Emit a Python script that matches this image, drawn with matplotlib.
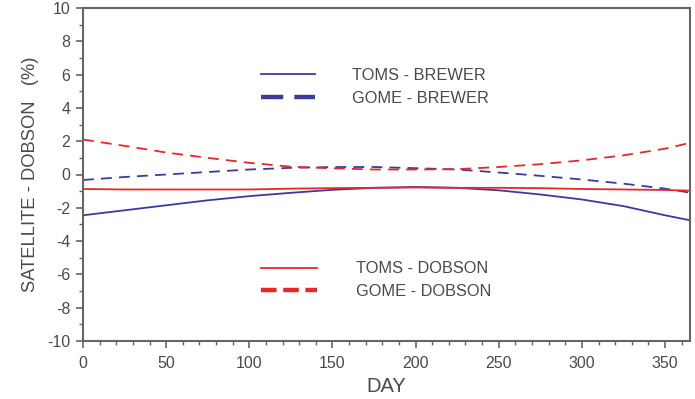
import numpy as np
import matplotlib.pyplot as plt
from matplotlib.lines import Line2D
from matplotlib.ticker import MultipleLocator

plt.rcParams['font.family'] = ['Liberation Sans', 'DejaVu Sans']
plt.rcParams['axes.unicode_minus'] = False

# Days sampled along the seasonal curves
days = [0, 25, 50, 75, 100, 125, 150, 175, 200, 225, 250, 275, 300, 325, 350, 365]

# Satellite minus ground-based differences (%)
toms_brewer = [-2.45, -2.15, -1.85, -1.55, -1.3, -1.1, -0.92, -0.8, -0.75, -0.8, -0.95, -1.2, -1.5, -1.9, -2.45, -2.75]
gome_brewer = [-0.33, -0.15, 0.0, 0.15, 0.3, 0.4, 0.45, 0.45, 0.38, 0.3, 0.12, -0.08, -0.3, -0.55, -0.85, -1.09]
toms_dobson = [-0.87, -0.9, -0.9, -0.9, -0.9, -0.85, -0.82, -0.8, -0.78, -0.8, -0.8, -0.82, -0.87, -0.9, -0.93, -0.97]
gome_dobson = [2.1, 1.72, 1.32, 1.0, 0.7, 0.47, 0.37, 0.3, 0.3, 0.32, 0.45, 0.62, 0.85, 1.15, 1.55, 1.9]

blue = '#3b3b9c'
red = '#e8262b'
grey = '#4a4a4a'

fig = plt.figure(figsize=(6.95, 3.99), dpi=100)
ax = fig.add_axes([83/695, 1 - 341/399, 607/695, 333/399])

ax.plot(days, toms_brewer, color=blue, lw=1.3)
ax.plot(days, gome_brewer, color=blue, lw=1.3, dashes=(6, 4))
ax.plot(days, toms_dobson, color=red, lw=1.3)
ax.plot(days, gome_dobson, color=red, lw=1.3, dashes=(6, 4))

ax.set_xlim(0, 365)
ax.set_ylim(-10, 10)
ax.xaxis.set_major_locator(MultipleLocator(50))
ax.xaxis.set_minor_locator(MultipleLocator(10))
ax.yaxis.set_major_locator(MultipleLocator(2))
ax.yaxis.set_minor_locator(MultipleLocator(1))
ax.tick_params(which='both', direction='out', colors='#666666', labelsize=11.5, labelcolor=grey)
ax.tick_params(which='major', length=5, width=1.2)
ax.tick_params(which='minor', length=3, width=1.0)
ax.tick_params(axis='x', pad=6)
ax.tick_params(axis='y', pad=4)
for s in ax.spines.values():
    s.set_color('#666666')
    s.set_linewidth(1.5)

ax.set_xlabel('DAY', fontsize=14.5, color=grey, labelpad=4)
ax.set_ylabel('SATELLITE - DOBSON   (%)', fontsize=13.2, color=grey, labelpad=6)

# Legends
brewer_handles = [Line2D([], [], color=blue, lw=1.3),
                  Line2D([], [], color=blue, lw=3.2, dashes=(5, 2.5, 5, 2.5, 1.2, 2.5))]
dobson_handles = [Line2D([], [], color=red, lw=1.3),
                  Line2D([], [], color=red, lw=3.2, dashes=(3.5, 1.5, 3.5, 1.5, 3.5, 1.5, 1.2, 1.5))]

leg1 = ax.legend(brewer_handles, ['TOMS - BREWER', 'GOME - BREWER'],
                 loc='upper left', bbox_to_anchor=(0.28, 0.844), frameon=False,
                 fontsize=11.8, handlelength=3.3, handletextpad=2.25,
                 labelspacing=0.45, borderpad=0, labelcolor=grey)
ax.add_artist(leg1)
ax.legend(dobson_handles, ['TOMS - DOBSON', 'GOME - DOBSON'],
          loc='upper left', bbox_to_anchor=(0.28, 0.264), frameon=False,
          fontsize=11.8, handlelength=3.4, handletextpad=2.4,
          labelspacing=0.45, borderpad=0, labelcolor=grey)

fig.savefig('out.png', dpi=100)
